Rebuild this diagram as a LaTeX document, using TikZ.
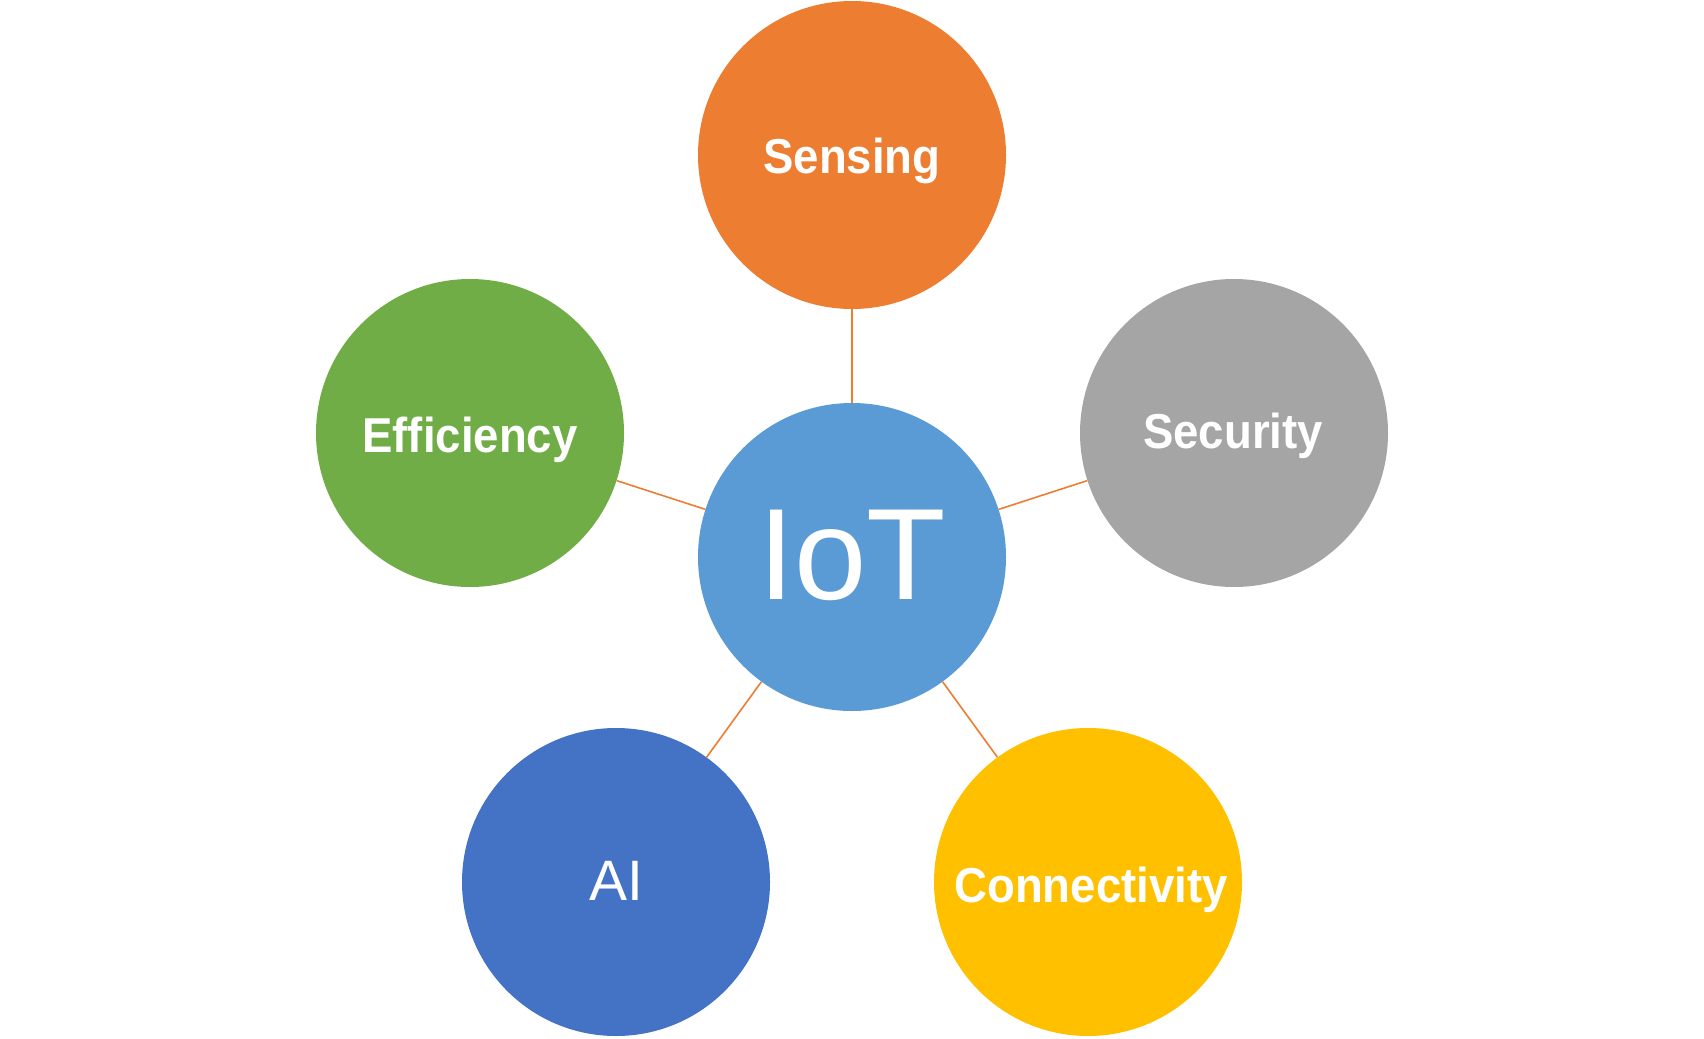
\documentclass[tikz,border=0pt]{standalone}
\usepackage{fontspec}
\setmainfont{Liberation Sans}
\newfontfamily\labfont[FakeStretch=0.93]{Liberation Sans}
\definecolor{cOrange}{HTML}{ED7D31}
\definecolor{cBlue}{HTML}{5B9BD5}
\definecolor{cGreen}{HTML}{70AD47}
\definecolor{cGray}{HTML}{A5A5A5}
\definecolor{cDark}{HTML}{4472C4}
\definecolor{cGold}{HTML}{FFC000}
\tikzset{
  bubble/.style={circle, draw=none, minimum size=308pt, inner sep=0pt},
  lab/.style={anchor=base, inner sep=0pt, text=white, font=\labfont\bfseries\fontsize{49}{49}\selectfont},
  link/.style={draw=cOrange, line width=1.6pt},
}
\begin{document}
\begin{tikzpicture}[x=1pt,y=-1pt]
\useasboundingbox (0,0) rectangle (1704,1038);
\node[bubble, fill=cBlue]   (iot)  at (852,557) {};
\node[bubble, fill=cOrange] (sens) at (852,155) {};
\node[bubble, fill=cGreen]  (eff)  at (470,433) {};
\node[bubble, fill=cGray]   (sec)  at (1234,433) {};
\node[bubble, fill=cDark]   (ai)   at (616,882) {};
\node[bubble, fill=cGold]   (conn) at (1088,882) {};

\path[link] (iot) -- (sens);
\path[link] (iot) -- (eff);
\path[link] (iot) -- (sec);
\path[link] (iot) -- (ai);
\path[link] (iot) -- (conn);

\node[anchor=base, inner sep=0pt, text=white, font=\fontsize{130}{130}\selectfont] (tiot) at ([yshift=-42pt]iot.center) {IoT};
\node[lab] (tsens) at ([yshift=-18pt]sens.center) {Sensing};
\node[lab] (teff)  at ([yshift=-19pt]eff.center) {Efficiency};
\node[lab] (tsec)  at ([yshift=-15pt,xshift=-1pt]sec.center) {Security};
\node[anchor=base, inner sep=0pt, text=white, font=\fontsize{57}{57}\selectfont] (tai) at ([yshift=-18pt]ai.center) {AI};
\node[lab] (tconn) at ([yshift=-20pt,xshift=3pt]conn.center) {Connectivity};
\end{tikzpicture}
\end{document}
